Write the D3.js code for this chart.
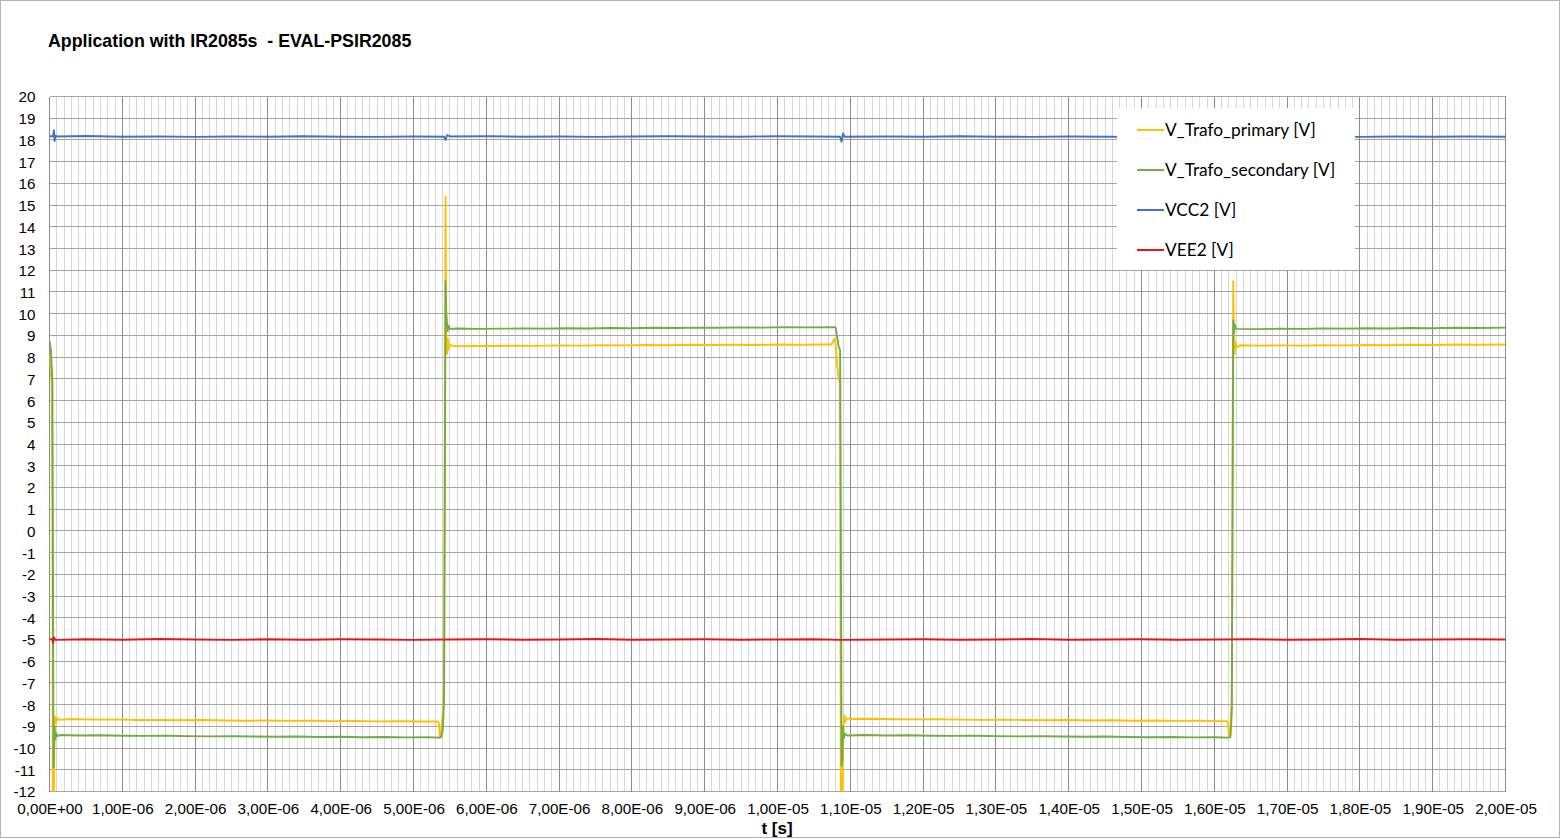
<!DOCTYPE html>
<html>
<head>
<meta charset="utf-8">
<script src="https://cdn.jsdelivr.net/npm/d3@7"></script>
<style>
  body { margin: 0; background: #ffffff; }
  svg { display: block; }
</style>
</head>
<body>
<svg id="chart" width="1561" height="839"></svg>
<script>
// time values are in microseconds, the axis shows seconds (x 1E-06)
var chartTitle = "Application with IR2085s  - EVAL-PSIR2085";
var xTitle = "t [s]";
var xTicks = d3.range( 0, 21 );          // 0 .. 20 us
var yTicks = d3.range( -12, 21 );        // -12 .. 20 V

var seriesNames = [ "V_Trafo_primary [V]", "V_Trafo_secondary [V]", "VCC2 [V]", "VEE2 [V]" ];
var seriesColors = [ "#ffc000", "#70ad47", "#4472c4", "#e8141c" ];

var vTrafoPrimary = [
  [0.00, 8.10], [0.01, 7.85], [0.02, 7.30], [0.03, 6.75], [0.04, 1.00], [0.045, -12.6],
  [0.06, -12.6], [0.065, -10.0], [0.07, -8.90], [0.08, -8.55], [0.09, -8.85], [0.10, -8.62],
  [0.13, -8.70], [0.30, -8.66], [0.60, -8.69], [0.90, -8.68], [1.20, -8.71], [1.50, -8.70],
  [1.80, -8.72], [2.10, -8.71], [2.40, -8.73], [2.70, -8.74], [3.00, -8.73], [3.30, -8.75],
  [3.60, -8.74], [3.90, -8.76], [4.20, -8.75], [4.50, -8.77], [4.80, -8.76], [5.10, -8.78],
  [5.33, -8.77], [5.35, -8.85], [5.36, -9.45], [5.38, -9.40], [5.40, -8.50], [5.41, -8.10],
  [5.42, -6.50], [5.43, 3.00], [5.44, 15.4], [5.45, 9.20], [5.46, 8.15], [5.47, 8.85],
  [5.48, 8.35], [5.50, 8.58], [5.55, 8.50], [5.80, 8.52], [6.10, 8.51], [6.40, 8.53],
  [6.70, 8.52], [7.00, 8.54], [7.30, 8.53], [7.60, 8.55], [7.90, 8.54], [8.20, 8.56],
  [8.50, 8.55], [8.80, 8.57], [9.10, 8.56], [9.40, 8.57], [9.70, 8.56], [10.0, 8.58],
  [10.3, 8.57], [10.6, 8.58], [10.74, 8.58], [10.76, 8.70], [10.78, 8.85], [10.80, 8.55],
  [10.82, 7.60], [10.84, 7.00], [10.86, 6.80], [10.87, -12.6], [10.89, -12.6], [10.90, -10.2],
  [10.91, -8.90], [10.92, -8.50], [10.93, -8.80], [10.95, -8.62], [11.0, -8.66], [11.3, -8.65],
  [11.6, -8.67], [11.9, -8.68], [12.2, -8.67], [12.5, -8.69], [12.8, -8.70], [13.1, -8.69],
  [13.4, -8.71], [13.7, -8.72], [14.0, -8.71], [14.3, -8.73], [14.6, -8.72], [14.9, -8.74],
  [15.2, -8.73], [15.5, -8.75], [15.8, -8.74], [16.10, -8.76], [16.17, -8.76], [16.19, -8.85],
  [16.20, -9.45], [16.22, -9.40], [16.23, -8.40], [16.24, -7.90], [16.25, 2.00], [16.26, 11.5],
  [16.27, 8.90], [16.28, 8.15], [16.29, 8.70], [16.31, 8.45], [16.35, 8.55], [16.6, 8.53],
  [16.9, 8.54], [17.2, 8.53], [17.5, 8.55], [17.8, 8.54], [18.1, 8.56], [18.4, 8.55],
  [18.7, 8.57], [19.0, 8.56], [19.3, 8.58], [19.6, 8.57], [20.0, 8.58]
];

var vTrafoSecondary = [
  [0.00, 8.75], [0.01, 8.55], [0.02, 8.30], [0.03, 7.60], [0.04, 6.90], [0.05, -5.00],
  [0.055, -10.9], [0.06, -10.6], [0.07, -9.00], [0.08, -9.60], [0.09, -9.30], [0.11, -9.45],
  [0.14, -9.40], [0.40, -9.42], [0.70, -9.41], [1.00, -9.43], [1.30, -9.44], [1.60, -9.43],
  [1.90, -9.45], [2.20, -9.46], [2.50, -9.45], [2.80, -9.47], [3.10, -9.48], [3.40, -9.47],
  [3.70, -9.49], [4.00, -9.48], [4.30, -9.50], [4.60, -9.49], [4.90, -9.51], [5.20, -9.50],
  [5.36, -9.52], [5.38, -9.50], [5.40, -9.20], [5.41, -8.60], [5.42, -7.50], [5.43, 2.00],
  [5.44, 11.5], [5.45, 10.0], [5.46, 9.60], [5.47, 9.20], [5.48, 9.45], [5.50, 9.30],
  [5.60, 9.32], [5.90, 9.30], [6.20, 9.31], [6.50, 9.32], [6.80, 9.31], [7.10, 9.33],
  [7.40, 9.32], [7.70, 9.34], [8.00, 9.33], [8.30, 9.35], [8.60, 9.34], [8.90, 9.36],
  [9.20, 9.35], [9.50, 9.37], [9.80, 9.36], [10.1, 9.38], [10.4, 9.37], [10.78, 9.38],
  [10.80, 9.35], [10.82, 8.90], [10.84, 8.50], [10.86, 8.30], [10.87, 0.00], [10.88, -10.8],
  [10.89, -10.5], [10.90, -9.00], [10.91, -9.55], [10.93, -9.35], [10.96, -9.42], [11.2, -9.40],
  [11.5, -9.42], [11.8, -9.41], [12.1, -9.43], [12.4, -9.44], [12.7, -9.43], [13.0, -9.45],
  [13.3, -9.46], [13.6, -9.45], [13.9, -9.47], [14.2, -9.48], [14.5, -9.47], [14.8, -9.49],
  [15.1, -9.50], [15.4, -9.49], [15.7, -9.51], [16.0, -9.50], [16.20, -9.52], [16.22, -9.50],
  [16.23, -9.00], [16.24, -8.30], [16.25, 0.00], [16.26, 9.70], [16.27, 9.10], [16.28, 9.50],
  [16.30, 9.30], [16.6, 9.29], [16.9, 9.31], [17.2, 9.30], [17.5, 9.32], [17.8, 9.31],
  [18.1, 9.33], [18.4, 9.32], [18.7, 9.34], [19.0, 9.33], [19.3, 9.35], [19.6, 9.34], [20.0, 9.36]
];

var vcc2 = [
  [0.00, 18.17], [0.05, 18.17], [0.06, 18.45], [0.07, 17.95], [0.08, 18.20], [0.10, 18.16],
  [0.50, 18.18], [1.00, 18.15], [1.50, 18.16], [2.00, 18.14], [2.50, 18.16], [3.00, 18.15],
  [3.50, 18.17], [4.00, 18.15], [4.50, 18.14], [5.00, 18.16], [5.42, 18.15], [5.44, 18.00],
  [5.46, 18.22], [5.50, 18.16], [6.00, 18.17], [6.50, 18.15], [7.00, 18.16], [7.50, 18.14],
  [8.00, 18.16], [8.50, 18.17], [9.00, 18.16], [9.50, 18.15], [10.0, 18.17], [10.5, 18.16],
  [10.86, 18.15], [10.88, 17.92], [10.90, 18.30], [10.92, 18.15], [11.5, 18.16], [12.0, 18.15],
  [12.5, 18.17], [13.0, 18.15], [13.5, 18.14], [14.0, 18.16], [14.5, 18.15], [15.0, 18.14],
  [15.5, 18.16], [16.0, 18.15], [16.24, 18.15], [16.26, 18.05], [16.28, 18.20], [16.5, 18.16],
  [17.0, 18.15], [17.5, 18.16], [18.0, 18.14], [18.5, 18.16], [19.0, 18.15], [19.5, 18.16],
  [20.0, 18.15]
];

var vee2 = [
  [0.00, -4.98], [0.04, -5.00], [0.05, -5.15], [0.06, -4.90], [0.08, -5.02], [0.50, -4.99],
  [1.00, -5.01], [1.50, -4.98], [2.00, -5.00], [2.50, -5.02], [3.00, -4.99], [3.50, -5.01],
  [4.00, -4.99], [4.50, -5.00], [5.00, -5.02], [5.44, -5.00], [6.00, -4.99], [6.50, -5.01],
  [7.00, -5.00], [7.50, -4.98], [8.00, -5.01], [8.50, -5.00], [9.00, -4.99], [9.50, -5.01],
  [10.0, -5.00], [10.5, -4.99], [10.88, -5.02], [11.5, -5.00], [12.0, -4.99], [12.5, -5.01],
  [13.0, -5.00], [13.5, -4.98], [14.0, -5.01], [14.5, -5.00], [15.0, -4.99], [15.5, -5.01],
  [16.0, -5.00], [16.5, -4.99], [17.0, -5.01], [17.5, -5.00], [18.0, -4.98], [18.5, -5.01],
  [19.0, -5.00], [19.5, -4.99], [20.0, -5.00]
];

var allSeries = [ vTrafoPrimary, vTrafoSecondary, vcc2, vee2 ];


// plot box (window.top is read-only, so no plain "top" here)
var pLeft = 49.5, pRight = 1505.5, pTop = 96.5, pBottom = 791.5;

var svg = d3.select( "#chart" );

// chart frame
svg.append( "rect" )
  .attr( "x", 0.5 ).attr( "y", 0.5 )
  .attr( "width", 1559 ).attr( "height", 837 )
  .attr( "fill", "#ffffff" )
  .attr( "stroke", "#b4b4b4" )
  .attr( "stroke-width", 1 );

var x = d3.scaleLinear().domain( [ 0, 20 ] ).range( [ pLeft, pRight ] );
var y = d3.scaleLinear().domain( [ -12, 20 ] ).range( [ pBottom, pTop ] );

var fmtSci = function( us ) {
  var parts = ( us * 1e-6 ).toExponential( 2 ).split( "e" );
  var ex = +parts[1];
  return parts[0].replace( ".", "," ) + "E" + ( ex < 0 ? "-" : "+" ) + String( Math.abs( ex ) ).padStart( 2, "0" );
};

var grid = svg.append( "g" ).attr( "shape-rendering", "crispEdges" );
var snap = function( v ) { return Math.round( v - 0.5 ) + 0.5; };

// minor verticals every 1E-07
grid.selectAll( "line.minor" )
  .data( d3.range( 0, 201 ).filter( function( i ) { return i % 10 != 0; } ) )
  .enter().append( "line" )
    .attr( "class", "minor" )
    .attr( "x1", function( i ) { return snap( x( i / 10 ) ); } )
    .attr( "x2", function( i ) { return snap( x( i / 10 ) ); } )
    .attr( "y1", pTop ).attr( "y2", pBottom )
    .attr( "stroke", "#d6d6d6" );

grid.selectAll( "line.hz" )
  .data( yTicks )
  .enter().append( "line" )
    .attr( "class", "hz" )
    .attr( "x1", pLeft ).attr( "x2", pRight )
    .attr( "y1", function( d ) { return snap( y( d ) ); } )
    .attr( "y2", function( d ) { return snap( y( d ) ); } )
    .attr( "stroke", "#a3a3a3" );

grid.selectAll( "line.major" )
  .data( xTicks )
  .enter().append( "line" )
    .attr( "class", "major" )
    .attr( "x1", function( d ) { return snap( x( d ) ); } )
    .attr( "x2", function( d ) { return snap( x( d ) ); } )
    .attr( "y1", pTop ).attr( "y2", pBottom )
    .attr( "stroke", "#8c8c8c" );

// axes with d3 axis generators, domain line hidden
var yAxis = svg.append( "g" )
  .attr( "transform", "translate(" + pLeft + ",0)" )
  .call( d3.axisLeft( y ).tickValues( yTicks ).tickSize( 0 ).tickPadding( 14 ).tickFormat( String ) );
var xAxis = svg.append( "g" )
  .attr( "transform", "translate(0," + pBottom + ")" )
  .call( d3.axisBottom( x ).tickValues( xTicks ).tickSize( 0 ).tickPadding( 12 ).tickFormat( fmtSci ) );
[ yAxis, xAxis ].forEach( function( a ) {
  a.select( ".domain" ).remove();
  a.selectAll( "text" )
    .style( "font-family", "'Liberation Sans', Arial, sans-serif" )
    .style( "font-size", "15.2px" )
    .attr( "fill", "#000000" );
} );
yAxis.selectAll( "text" ).attr( "dy", "0.36em" );

// series
svg.append( "clipPath" ).attr( "id", "plotclip" )
  .append( "rect" )
    .attr( "x", pLeft ).attr( "y", pTop )
    .attr( "width", pRight - pLeft ).attr( "height", pBottom - pTop );

var line = d3.line()
  .x( function( d ) { return x( d[0] ); } )
  .y( function( d ) { return y( d[1] ); } );

svg.append( "g" ).attr( "clip-path", "url(#plotclip)" )
  .selectAll( "path" )
  .data( allSeries )
  .enter().append( "path" )
    .attr( "d", line )
    .attr( "fill", "none" )
    .attr( "stroke", function( d, i ) { return seriesColors[i]; } )
    .attr( "stroke-width", 1.9 )
    .attr( "stroke-linejoin", "round" );

// legend
var lg = svg.append( "g" ).attr( "transform", "translate(1117,108)" );
lg.append( "rect" )
  .attr( "width", 238 ).attr( "height", 162 )
  .attr( "fill", "#ffffff" );
var rows = lg.selectAll( "g" )
  .data( seriesNames )
  .enter().append( "g" )
    .attr( "transform", function( d, i ) { return "translate(0," + ( 22 + i * 40 ) + ")"; } );
rows.append( "line" )
  .attr( "x1", 20 ).attr( "x2", 47 )
  .attr( "stroke", function( d, i ) { return seriesColors[i]; } )
  .attr( "stroke-width", 2 );
rows.append( "text" )
  .text( function( d ) { return d; } )
  .attr( "x", 48 ).attr( "dy", "0.35em" )
  .style( "font-family", "Lato, 'Open Sans', sans-serif" )
  .style( "font-size", "17.3px" )
  .attr( "fill", "#000000" );

// titles
svg.append( "text" )
  .text( chartTitle )
  .attr( "x", 48 ).attr( "y", 47 )
  .attr( "xml:space", "preserve" )
  .style( "white-space", "pre" )
  .style( "font-family", "'Liberation Sans', Arial, sans-serif" )
  .style( "font-size", "17.8px" )
  .style( "font-weight", "bold" );

svg.append( "text" )
  .text( xTitle )
  .attr( "x", 777 ).attr( "y", 834 )
  .style( "text-anchor", "middle" )
  .style( "font-family", "'Liberation Sans', Arial, sans-serif" )
  .style( "font-size", "17px" )
  .style( "font-weight", "bold" );
</script>
</body>
</html>
